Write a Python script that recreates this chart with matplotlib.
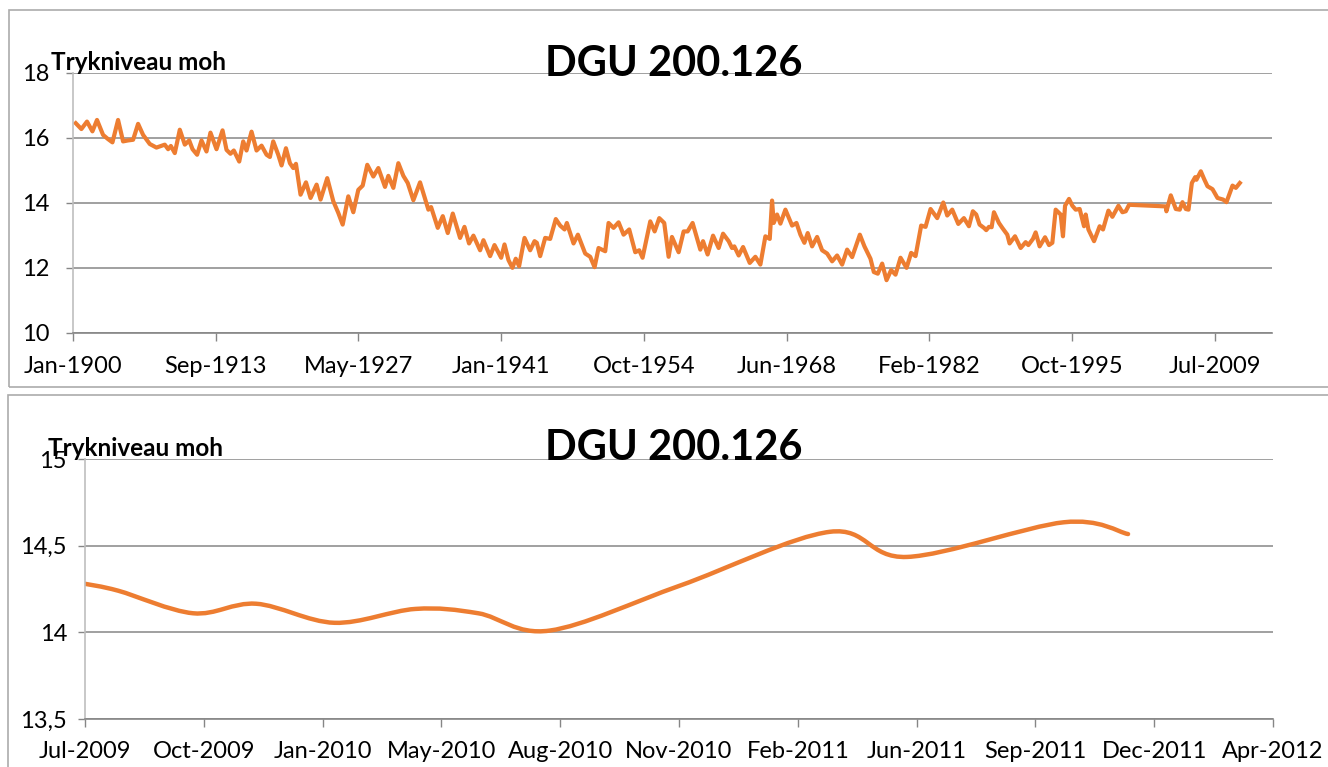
import numpy as np
import pandas as pd
import matplotlib
matplotlib.use('Agg')
import matplotlib.pyplot as plt
from matplotlib.path import Path
from matplotlib.patches import PathPatch, Rectangle

plt.rcParams['font.family'] = ['Lato', 'DejaVu Sans']

ORANGE = '#ED7D31'
GRID = '#868686'

title = 'DGU 200.126'
ylabel = 'Trykniveau moh'

# top chart, whole record (decimal year, level in m)
hist_year = [
    1900.26, 1900.80, 1901.34, 1901.86, 1902.30, 1902.88, 1903.36, 1903.78, 1904.32, 1904.80,
    1905.28, 1905.76, 1906.24, 1906.72, 1907.36, 1908.00, 1908.80, 1909.12, 1909.38, 1909.76,
    1910.24, 1910.72, 1911.14, 1911.46, 1911.90, 1912.32, 1912.80, 1913.18, 1913.76, 1914.34,
    1914.72, 1915.10, 1915.42, 1915.94, 1916.32, 1916.64, 1917.12, 1917.60, 1918.08, 1918.56,
    1918.88, 1919.20, 1919.68, 1920.00, 1920.42, 1920.80, 1921.12, 1921.38, 1921.82, 1922.34,
    1922.78, 1923.36, 1923.74, 1924.38, 1924.96, 1925.44, 1925.86, 1926.40, 1926.88, 1927.36,
    1927.78, 1928.22, 1928.80, 1929.28, 1929.92, 1930.24, 1930.72, 1931.20, 1931.68, 1932.10,
    1932.64, 1933.28, 1934.08, 1934.34, 1934.98, 1935.46, 1935.94, 1936.42, 1937.12, 1937.54,
    1937.98, 1938.40, 1939.04, 1939.36, 1940.00, 1940.42, 1941.06, 1941.38, 1941.76, 1942.14,
    1942.46, 1942.78, 1943.30, 1943.84, 1944.26, 1944.48, 1944.80, 1945.28, 1945.76, 1946.30,
    1946.72, 1947.14, 1947.36, 1948.00, 1948.42, 1949.12, 1949.60, 1950.02, 1950.40, 1951.04,
    1951.36, 1951.84, 1952.32, 1952.80, 1953.34, 1953.92, 1954.30, 1954.62, 1955.36, 1955.78,
    1956.22, 1956.70, 1957.12, 1957.44, 1958.08, 1958.56, 1958.94, 1959.42, 1959.84, 1960.16,
    1960.42, 1960.86, 1961.38, 1961.92, 1962.34, 1962.88, 1963.20, 1963.42, 1963.84, 1964.26,
    1964.90, 1965.44, 1965.92, 1966.40, 1966.82, 1967.04, 1967.20, 1967.52, 1967.84, 1968.32,
    1968.96, 1969.38, 1969.76, 1970.14, 1970.46, 1970.88, 1971.36, 1971.84, 1972.32, 1972.80,
    1973.28, 1973.76, 1974.24, 1974.72, 1975.46, 1975.90, 1976.48, 1976.80, 1977.18, 1977.60,
    1978.02, 1978.46, 1978.88, 1979.36, 1979.94, 1980.38, 1980.80, 1981.34, 1981.76, 1982.24,
    1982.88, 1983.46, 1983.84, 1984.32, 1984.90, 1985.44, 1985.92, 1986.30, 1986.62, 1986.94,
    1987.36, 1987.58, 1987.84, 1988.10, 1988.32, 1988.80, 1989.12, 1989.60, 1989.82, 1990.34,
    1990.88, 1991.36, 1991.62, 1992.06, 1992.32, 1992.70, 1993.22, 1993.60, 1993.92, 1994.24,
    1994.72, 1994.94, 1995.14, 1995.52, 1995.84, 1996.16, 1996.54, 1996.96, 1997.12, 1997.38,
    1997.92, 1998.46, 1998.78, 1999.30, 1999.68, 2000.26, 2000.64, 2000.96, 2001.28, 2004.80,
    2004.86, 2005.28, 2005.76, 2006.14, 2006.40, 2006.72, 2006.98, 2007.30, 2007.62, 2007.74,
    2008.16, 2008.48, 2008.80, 2009.28, 2009.76, 2010.08, 2010.30, 2010.62, 2011.20, 2011.52,
    2011.90,
]
hist_level = [
    16.44, 16.26, 16.49, 16.19, 16.54, 16.08, 15.95, 15.85, 16.54, 15.88,
    15.91, 15.93, 16.42, 16.08, 15.80, 15.69, 15.78, 15.64, 15.74, 15.52,
    16.24, 15.78, 15.91, 15.64, 15.47, 15.91, 15.57, 16.15, 15.64, 16.22,
    15.62, 15.50, 15.60, 15.26, 15.88, 15.60, 16.18, 15.60, 15.75, 15.47,
    15.40, 15.88, 15.47, 15.14, 15.67, 15.21, 15.06, 15.19, 14.24, 14.62,
    14.14, 14.55, 14.09, 14.75, 14.04, 13.68, 13.32, 14.19, 13.70, 14.39,
    14.52, 15.16, 14.80, 15.06, 14.48, 14.82, 14.45, 15.21, 14.82, 14.60,
    14.07, 14.62, 13.78, 13.86, 13.22, 13.58, 13.06, 13.66, 12.91, 13.25,
    12.74, 12.98, 12.53, 12.84, 12.35, 12.69, 12.30, 12.71, 12.23, 11.99,
    12.27, 12.04, 12.91, 12.53, 12.81, 12.76, 12.35, 12.91, 12.88, 13.49,
    13.29, 13.17, 13.37, 12.74, 13.01, 12.43, 12.33, 12.01, 12.60, 12.50,
    13.37, 13.22, 13.39, 13.01, 13.17, 12.47, 12.53, 12.30, 13.42, 13.11,
    13.52, 13.37, 12.33, 12.94, 12.47, 13.11, 13.11, 13.37, 12.91, 12.55,
    12.81, 12.40, 12.98, 12.60, 13.04, 12.81, 12.60, 12.65, 12.37, 12.63,
    12.14, 12.33, 12.09, 12.96, 12.88, 14.06, 13.37, 13.63, 13.35, 13.78,
    13.29, 13.37, 13.01, 12.76, 13.06, 12.65, 12.94, 12.53, 12.43, 12.19,
    12.37, 12.09, 12.55, 12.32, 13.01, 12.65, 12.27, 11.86, 11.81, 12.12,
    11.61, 11.92, 11.78, 12.30, 11.99, 12.45, 12.35, 13.29, 13.25, 13.80,
    13.52, 14.00, 13.60, 13.78, 13.34, 13.52, 13.27, 13.73, 13.63, 13.32,
    13.22, 13.15, 13.25, 13.24, 13.70, 13.37, 13.22, 13.01, 12.74, 12.96,
    12.60, 12.78, 12.69, 12.88, 13.08, 12.65, 12.93, 12.69, 12.76, 13.78,
    13.63, 12.96, 13.90, 14.11, 13.90, 13.78, 13.80, 13.27, 13.63, 13.17,
    12.81, 13.27, 13.17, 13.75, 13.56, 13.90, 13.70, 13.73, 13.93, 13.88,
    13.73, 14.22, 13.80, 13.78, 14.01, 13.80, 13.78, 14.60, 14.78, 14.70,
    14.96, 14.72, 14.50, 14.41, 14.14, 14.11, 14.09, 14.01, 14.52, 14.45,
    14.60,
]
top_ticks = [0, 5000, 10000, 15000, 20000, 25000, 30000, 35000, 40000]
top_ticklabels = ['Jan-1900', 'Sep-1913', 'May-1927', 'Jan-1941', 'Oct-1954',
                  'Jun-1968', 'Feb-1982', 'Oct-1995', 'Jul-2009']
top_yticks = [10, 12, 14, 16, 18]

# bottom chart, recent measurements
recent_date = ['2009-07-06', '2009-08-03', '2009-10-05', '2009-11-27', '2010-02-01',
               '2010-04-10', '2010-06-02', '2010-08-01', '2010-11-19', '2011-03-25',
               '2011-05-29', '2011-10-08', '2011-12-01']
recent_level = [14.28, 14.24, 14.11, 14.165, 14.055, 14.135, 14.11, 14.01, 14.27, 14.58,
                14.435, 14.635, 14.567]
bottom_ticks = list(range(40000, 41001, 100))
bottom_ticklabels = ['Jul-2009', 'Oct-2009', 'Jan-2010', 'May-2010', 'Aug-2010', 'Nov-2010',
                     'Feb-2011', 'Jun-2011', 'Sep-2011', 'Dec-2011', 'Apr-2012']
bottom_yticks = [13.5, 14, 14.5, 15]
bottom_yticklabels = ['13,5', '14', '14,5', '15']

# excel style serial day numbers
hist_x = (np.array(hist_year) - 1900) * 365.25 + 1
recent_x = (pd.to_datetime(recent_date) - pd.Timestamp('1899-12-30')).days.values.astype(float)


def smooth_path(x, y):
    # excel "smoothed line": bezier through the points (catmull-rom tangents)
    pts = np.column_stack([x, y])
    n = len(pts)
    verts = [pts[0]]
    codes = [Path.MOVETO]
    for i in range(n - 1):
        p0 = pts[i - 1] if i > 0 else pts[i]
        p1 = pts[i]
        p2 = pts[i + 1]
        p3 = pts[i + 2] if i + 2 < n else pts[i + 1]
        verts += [p1 + (p2 - p0) / 6, p2 - (p3 - p1) / 6, p2]
        codes += [Path.CURVE4] * 3
    return Path(verts, codes)


def style(ax):
    ax.spines['top'].set_visible(False)
    ax.spines['right'].set_visible(False)
    ax.spines['left'].set_color('#BFBFBF')
    ax.spines['bottom'].set_color(GRID)
    ax.spines['left'].set_linewidth(1.2)
    ax.spines['bottom'].set_linewidth(1.2)
    ax.grid(axis='y', color=GRID, lw=1.1)
    ax.set_axisbelow(True)
    ax.tick_params(axis='x', length=6, width=1, color=GRID, labelsize=17, pad=11)
    ax.tick_params(axis='y', length=5, width=1, color=GRID, labelsize=17, pad=12)


W, H = 1328, 767
fig = plt.figure(figsize=(W / 100, H / 100), dpi=100)

# chart frames
fig.add_artist(Rectangle((9 / W, 1 - 387 / H), 1.0, 377 / H, transform=fig.transFigure,
                         fill=False, edgecolor='#ABABAB', lw=1.2))
fig.add_artist(Rectangle((8 / W, -0.1), 1.0, 0.1 + 1 - 395 / H, transform=fig.transFigure,
                         fill=False, edgecolor='#ABABAB', lw=1.2))

ax1 = fig.add_axes([73 / W, 1 - 332.5 / H, 1199 / W, 260 / H])
ax1.plot(hist_x, hist_level, color=ORANGE, lw=3, solid_joinstyle='round')
ax1.set_xlim(0, 42000)
ax1.set_ylim(10, 18)
ax1.set_xticks(top_ticks)
ax1.set_xticklabels(top_ticklabels)
ax1.set_yticks(top_yticks)
style(ax1)

ax2 = fig.add_axes([85 / W, 1 - 719 / H, 1188 / W, 260 / H])
ax2.add_patch(PathPatch(smooth_path(recent_x, recent_level), facecolor='none',
                        edgecolor=ORANGE, lw=3.2, capstyle='round'))
ax2.set_xlim(40000, 41000)
ax2.set_ylim(13.5, 15)
ax2.set_xticks(bottom_ticks)
ax2.set_xticklabels(bottom_ticklabels)
ax2.set_yticks(bottom_yticks)
ax2.set_yticklabels(bottom_yticklabels)
style(ax2)
ax2.tick_params(axis='y', pad=8)
ax2.tick_params(axis='x', pad=10)

fig.text(674 / W, 1 - 76 / H, title, ha='center', va='baseline', fontsize=30, fontweight='bold')
fig.text(51 / W, 1 - 70 / H, ylabel, ha='left', va='baseline', fontsize=17.5, fontweight='bold')
fig.text(674 / W, 1 - 460 / H, title, ha='center', va='baseline', fontsize=30, fontweight='bold')
fig.text(48 / W, 1 - 456 / H, ylabel, ha='left', va='baseline', fontsize=17.5, fontweight='bold')

fig.savefig('out.png', dpi=100)
